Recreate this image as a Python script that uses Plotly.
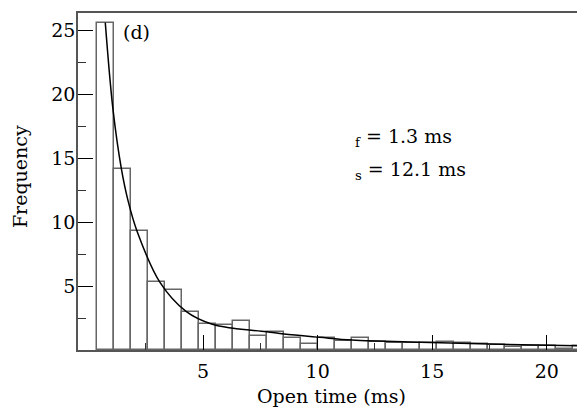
import plotly.graph_objects as go

# histogram bin centres (ms) and frequencies
bin_centres = [0.76, 1.50, 2.24, 2.98, 3.72, 4.46, 5.20, 5.95, 6.69, 7.43,
               8.17, 8.91, 9.65, 10.39, 11.13, 11.87, 12.61, 13.36, 14.10, 14.84,
               15.58, 16.32, 17.06, 17.80, 18.54, 19.28, 20.02, 20.77, 21.51]
frequency = [25.6, 14.14, 9.27, 5.31, 4.69, 3.0, 2.0, 1.95, 2.29, 1.09,
             1.38, 0.93, 0.47, 0.91, 0.7, 0.93, 0.6, 0.58, 0.58, 0.52,
             0.64, 0.58, 0.44, 0.39, 0.2, 0.34, 0.34, 0.1, 0.34]
bin_width = 0.741

# fitted curve, points
fit_t = [0.73, 1.07, 1.435, 1.72, 2.12, 3.11, 4.27, 5.37, 6.31, 7.77, 8.53,
         10.1, 11.5, 14.5, 18.0, 21.7]
fit_v = [25.6, 18.75, 14.14, 11.7, 9.27, 5.31, 3.0, 2.03, 1.7, 1.43, 1.25,
         0.99, 0.78, 0.6, 0.44, 0.32]

x_ticks = [5, 10, 15, 20]
y_ticks = [5, 10, 15, 20, 25]

FONT = "DejaVu Serif"
FS = 19

fig = go.Figure()
fig.add_trace(go.Bar(
    x=bin_centres, y=frequency, width=bin_width,
    marker=dict(color="white", line=dict(color="#666666", width=1.5)),
    showlegend=False,
))
fig.add_trace(go.Scatter(
    x=fit_t, y=fit_v, mode="lines", line=dict(color="black", width=1.5, shape="spline"),
    showlegend=False,
))

fig.add_annotation(x=1.40, y=24.87, xref="x", yref="y", text="(d)", showarrow=False,
                   xanchor="left", yanchor="middle", font=dict(family=FONT, size=FS, color="black"))
fig.add_annotation(x=11.55, y=16.6, xref="x", yref="y", text="<sub>f</sub> = 1.3 ms", showarrow=False,
                   xanchor="left", yanchor="middle", font=dict(family=FONT, size=FS, color="black"))
fig.add_annotation(x=11.55, y=14.0, xref="x", yref="y", text="<sub>s</sub> = 12.1 ms", showarrow=False,
                   xanchor="left", yanchor="middle", font=dict(family=FONT, size=FS, color="black"))

# axis titles
fig.add_annotation(x=-0.1144, y=0.516, xref="paper", yref="paper", text="Frequency", showarrow=False,
                   textangle=-90, xanchor="center", yanchor="middle",
                   font=dict(family=FONT, size=FS, color="black"))
fig.add_annotation(x=0.5004, y=-0.1365, xref="paper", yref="paper", text="Open time (ms)", showarrow=False,
                   xanchor="center", yanchor="middle",
                   font=dict(family=FONT, size=FS, color="black"))

# page body adds an 8 px offset, so the figure is drawn 8 px smaller / shifted
fig.update_layout(
    width=577, height=406,
    margin=dict(l=70, r=0, t=5, b=64, autoexpand=False),
    plot_bgcolor="white", paper_bgcolor="white",
    font=dict(family=FONT, size=FS, color="black"),
    bargap=0,
)
fig.update_xaxes(
    range=[-0.461, 21.67], showgrid=False, zeroline=False, automargin=False,
    showline=True, linecolor="#555555", linewidth=1.5, mirror=True,
    tickvals=x_ticks, ticks="inside", ticklen=15, tickcolor="black", tickwidth=1,
    minor=dict(tickvals=[2.5, 7.5, 12.5, 17.5], ticks="inside", ticklen=7, tickcolor="#333333", tickwidth=1),
    tickfont=dict(family=FONT, size=FS), ticklabelstandoff=3,
)
fig.update_yaxes(
    range=[0, 26.35], showgrid=False, zeroline=False, automargin=False,
    showline=True, linecolor="#555555", linewidth=1.5, mirror=False,
    tickvals=y_ticks, ticks="inside", ticklen=15, tickcolor="black", tickwidth=1,
    minor=dict(tickvals=[2.5, 7.5, 12.5, 17.5, 22.5], ticks="inside", ticklen=8, tickcolor="#333333", tickwidth=1),
    tickfont=dict(family=FONT, size=FS), ticklabelstandoff=-3,
)

fig.write_html("out.html")
